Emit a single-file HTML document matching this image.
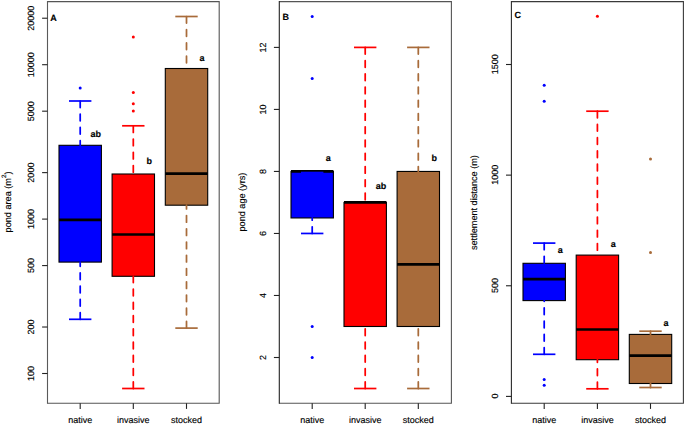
<!DOCTYPE html>
<html><head><meta charset="utf-8"><title>boxplots</title><style>
html,body{margin:0;padding:0;background:#fff;}
svg{display:block;}
text{font-family:"Liberation Sans",sans-serif;fill:#000;stroke:#000;stroke-width:0.15px;font-kerning:none;text-rendering:geometricPrecision;}
</style></head><body>
<svg width="685" height="425" viewBox="0 0 685 425">
<rect width="685" height="425" fill="#fff"/>
<path d="M47.5,1.6H219.2V403.3H47.5" fill="none" stroke="#555" stroke-width="1.1"/>
<line x1="47.5" y1="1.05" x2="47.5" y2="403.85" stroke="#5a5a5a" stroke-width="1.1"/>
<line x1="42.10" y1="373.50" x2="47.50" y2="373.50" stroke="#222" stroke-width="1.1"/>
<text transform="translate(34.30,373.50) rotate(-90)" font-size="9" text-anchor="middle">100</text>
<line x1="42.10" y1="327.02" x2="47.50" y2="327.02" stroke="#222" stroke-width="1.1"/>
<text transform="translate(34.30,327.02) rotate(-90)" font-size="9" text-anchor="middle">200</text>
<line x1="42.10" y1="265.58" x2="47.50" y2="265.58" stroke="#222" stroke-width="1.1"/>
<text transform="translate(34.30,265.58) rotate(-90)" font-size="9" text-anchor="middle">500</text>
<line x1="42.10" y1="219.10" x2="47.50" y2="219.10" stroke="#222" stroke-width="1.1"/>
<text transform="translate(34.30,219.10) rotate(-90)" font-size="9" text-anchor="middle">1000</text>
<line x1="42.10" y1="172.62" x2="47.50" y2="172.62" stroke="#222" stroke-width="1.1"/>
<text transform="translate(34.30,172.62) rotate(-90)" font-size="9" text-anchor="middle">2000</text>
<line x1="42.10" y1="111.18" x2="47.50" y2="111.18" stroke="#222" stroke-width="1.1"/>
<text transform="translate(34.30,111.18) rotate(-90)" font-size="9" text-anchor="middle">5000</text>
<line x1="42.10" y1="64.70" x2="47.50" y2="64.70" stroke="#222" stroke-width="1.1"/>
<text transform="translate(34.30,64.70) rotate(-90)" font-size="9" text-anchor="middle">10000</text>
<line x1="42.10" y1="18.22" x2="47.50" y2="18.22" stroke="#222" stroke-width="1.1"/>
<text transform="translate(34.30,18.22) rotate(-90)" font-size="9" text-anchor="middle">20000</text>
<line x1="80.20" y1="403.30" x2="80.20" y2="408.90" stroke="#222" stroke-width="1.1"/>
<text x="80.20" y="423.20" font-size="9" text-anchor="middle">native</text>
<line x1="133.30" y1="403.30" x2="133.30" y2="408.90" stroke="#222" stroke-width="1.1"/>
<text x="133.30" y="423.20" font-size="9" text-anchor="middle">invasive</text>
<line x1="186.50" y1="403.30" x2="186.50" y2="408.90" stroke="#222" stroke-width="1.1"/>
<text x="186.50" y="423.20" font-size="9" text-anchor="middle">stocked</text>
<rect x="59.00" y="145.30" width="42.40" height="116.80" fill="#0000FF" stroke="#000" stroke-width="1.1"/>
<line x1="59.00" y1="219.80" x2="101.40" y2="219.80" stroke="#000" stroke-width="2.7"/>
<line x1="80.20" y1="319.30" x2="80.20" y2="262.10" stroke="#0000FF" stroke-width="1.75" stroke-dasharray="6.62 6.62" stroke-linecap="round"/>
<line x1="80.20" y1="101.00" x2="80.20" y2="145.30" stroke="#0000FF" stroke-width="1.75" stroke-dasharray="6.62 6.62" stroke-linecap="round"/>
<line x1="69.00" y1="319.30" x2="91.40" y2="319.30" stroke="#0000FF" stroke-width="1.7"/>
<line x1="69.00" y1="101.00" x2="91.40" y2="101.00" stroke="#0000FF" stroke-width="1.7"/>
<circle cx="80.20" cy="87.90" r="1.5" fill="#0000FF"/>
<rect x="112.10" y="174.00" width="42.40" height="102.30" fill="#FF0000" stroke="#000" stroke-width="1.1"/>
<line x1="112.10" y1="234.50" x2="154.50" y2="234.50" stroke="#000" stroke-width="2.7"/>
<line x1="133.30" y1="388.50" x2="133.30" y2="276.30" stroke="#FF0000" stroke-width="1.75" stroke-dasharray="6.62 6.62" stroke-linecap="round"/>
<line x1="133.30" y1="125.80" x2="133.30" y2="174.00" stroke="#FF0000" stroke-width="1.75" stroke-dasharray="6.62 6.62" stroke-linecap="round"/>
<line x1="122.10" y1="388.50" x2="144.50" y2="388.50" stroke="#FF0000" stroke-width="1.7"/>
<line x1="122.10" y1="125.80" x2="144.50" y2="125.80" stroke="#FF0000" stroke-width="1.7"/>
<circle cx="133.30" cy="37.10" r="1.5" fill="#FF0000"/>
<circle cx="133.30" cy="92.60" r="1.5" fill="#FF0000"/>
<circle cx="133.30" cy="103.70" r="1.5" fill="#FF0000"/>
<circle cx="133.30" cy="110.90" r="1.5" fill="#FF0000"/>
<rect x="165.30" y="68.50" width="42.40" height="136.70" fill="#A86B3A" stroke="#000" stroke-width="1.1"/>
<line x1="165.30" y1="173.70" x2="207.70" y2="173.70" stroke="#000" stroke-width="2.7"/>
<line x1="186.50" y1="328.10" x2="186.50" y2="205.20" stroke="#A86B3A" stroke-width="1.75" stroke-dasharray="6.62 6.62" stroke-linecap="round"/>
<line x1="186.50" y1="16.50" x2="186.50" y2="68.50" stroke="#A86B3A" stroke-width="1.75" stroke-dasharray="6.62 6.62" stroke-linecap="round"/>
<line x1="175.30" y1="328.10" x2="197.70" y2="328.10" stroke="#A86B3A" stroke-width="1.7"/>
<line x1="175.30" y1="16.50" x2="197.70" y2="16.50" stroke="#A86B3A" stroke-width="1.7"/>
<text transform="translate(10.90,201.90) rotate(-90)" font-size="9.15"><tspan x="-30.49" y="0">pond area (m</tspan><tspan x="23.94" y="-4.9" font-size="6.3">2</tspan><tspan x="27.44" y="0">)</tspan></text>
<text x="50.30" y="21.40" font-size="9" font-weight="bold">A</text>
<text x="90.40" y="136.80" font-size="9" font-weight="bold">ab</text>
<text x="146.40" y="163.80" font-size="9" font-weight="bold">b</text>
<text x="199.40" y="61.00" font-size="9" font-weight="bold">a</text>
<path d="M279.3,1.6H451.4V403.3H279.3" fill="none" stroke="#555" stroke-width="1.1"/>
<line x1="279.3" y1="1.05" x2="279.3" y2="403.85" stroke="#222" stroke-width="1.1"/>
<line x1="273.90" y1="357.50" x2="279.30" y2="357.50" stroke="#222" stroke-width="1.1"/>
<text transform="translate(266.40,357.50) rotate(-90)" font-size="9" text-anchor="middle">2</text>
<line x1="273.90" y1="295.48" x2="279.30" y2="295.48" stroke="#222" stroke-width="1.1"/>
<text transform="translate(266.40,295.48) rotate(-90)" font-size="9" text-anchor="middle">4</text>
<line x1="273.90" y1="233.46" x2="279.30" y2="233.46" stroke="#222" stroke-width="1.1"/>
<text transform="translate(266.40,233.46) rotate(-90)" font-size="9" text-anchor="middle">6</text>
<line x1="273.90" y1="171.44" x2="279.30" y2="171.44" stroke="#222" stroke-width="1.1"/>
<text transform="translate(266.40,171.44) rotate(-90)" font-size="9" text-anchor="middle">8</text>
<line x1="273.90" y1="109.42" x2="279.30" y2="109.42" stroke="#222" stroke-width="1.1"/>
<text transform="translate(266.40,109.42) rotate(-90)" font-size="9" text-anchor="middle">10</text>
<line x1="273.90" y1="47.40" x2="279.30" y2="47.40" stroke="#222" stroke-width="1.1"/>
<text transform="translate(266.40,47.40) rotate(-90)" font-size="9" text-anchor="middle">12</text>
<line x1="312.20" y1="403.30" x2="312.20" y2="408.90" stroke="#222" stroke-width="1.1"/>
<text x="312.20" y="423.20" font-size="9" text-anchor="middle">native</text>
<line x1="365.20" y1="403.30" x2="365.20" y2="408.90" stroke="#222" stroke-width="1.1"/>
<text x="365.20" y="423.20" font-size="9" text-anchor="middle">invasive</text>
<line x1="418.30" y1="403.30" x2="418.30" y2="408.90" stroke="#222" stroke-width="1.1"/>
<text x="418.30" y="423.20" font-size="9" text-anchor="middle">stocked</text>
<rect x="291.00" y="171.44" width="42.40" height="46.51" fill="#0000FF" stroke="#000" stroke-width="1.1"/>
<line x1="291.00" y1="171.44" x2="333.40" y2="171.44" stroke="#000" stroke-width="2.7"/>
<line x1="312.20" y1="233.46" x2="312.20" y2="217.95" stroke="#0000FF" stroke-width="1.75" stroke-dasharray="6.62 6.62" stroke-linecap="round"/>
<line x1="301.00" y1="233.46" x2="323.40" y2="233.46" stroke="#0000FF" stroke-width="1.7"/>
<line x1="301.00" y1="172.54" x2="323.40" y2="172.54" stroke="#0000FF" stroke-width="1.7"/>
<circle cx="312.20" cy="16.39" r="1.5" fill="#0000FF"/>
<circle cx="312.20" cy="78.41" r="1.5" fill="#0000FF"/>
<circle cx="312.20" cy="326.49" r="1.5" fill="#0000FF"/>
<circle cx="312.20" cy="357.50" r="1.5" fill="#0000FF"/>
<rect x="344.00" y="202.45" width="42.40" height="124.04" fill="#FF0000" stroke="#000" stroke-width="1.1"/>
<line x1="344.00" y1="202.45" x2="386.40" y2="202.45" stroke="#000" stroke-width="2.7"/>
<line x1="365.20" y1="388.51" x2="365.20" y2="326.49" stroke="#FF0000" stroke-width="1.75" stroke-dasharray="6.62 6.62" stroke-linecap="round"/>
<line x1="365.20" y1="47.40" x2="365.20" y2="202.45" stroke="#FF0000" stroke-width="1.75" stroke-dasharray="6.62 6.62" stroke-linecap="round"/>
<line x1="354.00" y1="388.51" x2="376.40" y2="388.51" stroke="#FF0000" stroke-width="1.7"/>
<line x1="354.00" y1="47.40" x2="376.40" y2="47.40" stroke="#FF0000" stroke-width="1.7"/>
<rect x="397.10" y="171.44" width="42.40" height="155.05" fill="#A86B3A" stroke="#000" stroke-width="1.1"/>
<line x1="397.10" y1="264.47" x2="439.50" y2="264.47" stroke="#000" stroke-width="2.7"/>
<line x1="418.30" y1="388.51" x2="418.30" y2="326.49" stroke="#A86B3A" stroke-width="1.75" stroke-dasharray="6.62 6.62" stroke-linecap="round"/>
<line x1="418.30" y1="47.40" x2="418.30" y2="171.44" stroke="#A86B3A" stroke-width="1.75" stroke-dasharray="6.62 6.62" stroke-linecap="round"/>
<line x1="407.10" y1="388.51" x2="429.50" y2="388.51" stroke="#A86B3A" stroke-width="1.7"/>
<line x1="407.10" y1="47.40" x2="429.50" y2="47.40" stroke="#A86B3A" stroke-width="1.7"/>
<text transform="translate(244.70,202.10) rotate(-90)" font-size="9.15" text-anchor="middle">pond age (yrs)</text>
<text x="282.40" y="19.60" font-size="9" font-weight="bold">B</text>
<text x="325.80" y="160.60" font-size="9" font-weight="bold">a</text>
<text x="375.80" y="189.10" font-size="9" font-weight="bold">ab</text>
<text x="431.50" y="161.30" font-size="9" font-weight="bold">b</text>
<path d="M511.4,1.6H683.4V403.3H511.4" fill="none" stroke="#3a3a3a" stroke-width="1.1"/>
<line x1="511.4" y1="1.05" x2="511.4" y2="403.85" stroke="#2a2a2a" stroke-width="1.1"/>
<line x1="506.00" y1="396.40" x2="511.40" y2="396.40" stroke="#222" stroke-width="1.1"/>
<text transform="translate(498.20,396.10) rotate(-90)" font-size="9" text-anchor="middle">0</text>
<line x1="506.00" y1="285.77" x2="511.40" y2="285.77" stroke="#222" stroke-width="1.1"/>
<text transform="translate(498.20,285.47) rotate(-90)" font-size="9" text-anchor="middle">500</text>
<line x1="506.00" y1="175.13" x2="511.40" y2="175.13" stroke="#222" stroke-width="1.1"/>
<text transform="translate(498.20,174.83) rotate(-90)" font-size="9" text-anchor="middle">1000</text>
<line x1="506.00" y1="64.50" x2="511.40" y2="64.50" stroke="#222" stroke-width="1.1"/>
<text transform="translate(498.20,64.20) rotate(-90)" font-size="9" text-anchor="middle">1500</text>
<line x1="544.20" y1="403.30" x2="544.20" y2="408.90" stroke="#222" stroke-width="1.1"/>
<text x="544.20" y="423.20" font-size="9" text-anchor="middle">native</text>
<line x1="597.40" y1="403.30" x2="597.40" y2="408.90" stroke="#222" stroke-width="1.1"/>
<text x="597.40" y="423.20" font-size="9" text-anchor="middle">invasive</text>
<line x1="650.50" y1="403.30" x2="650.50" y2="408.90" stroke="#222" stroke-width="1.1"/>
<text x="650.50" y="423.20" font-size="9" text-anchor="middle">stocked</text>
<rect x="523.00" y="263.30" width="42.40" height="37.30" fill="#0000FF" stroke="#000" stroke-width="1.1"/>
<line x1="523.00" y1="279.20" x2="565.40" y2="279.20" stroke="#000" stroke-width="2.7"/>
<line x1="544.20" y1="354.30" x2="544.20" y2="300.60" stroke="#0000FF" stroke-width="1.75" stroke-dasharray="6.62 6.62" stroke-linecap="round"/>
<line x1="544.20" y1="243.10" x2="544.20" y2="263.30" stroke="#0000FF" stroke-width="1.75" stroke-dasharray="6.62 6.62" stroke-linecap="round"/>
<line x1="533.00" y1="354.30" x2="555.40" y2="354.30" stroke="#0000FF" stroke-width="1.7"/>
<line x1="533.00" y1="243.10" x2="555.40" y2="243.10" stroke="#0000FF" stroke-width="1.7"/>
<circle cx="544.20" cy="85.20" r="1.5" fill="#0000FF"/>
<circle cx="544.20" cy="101.20" r="1.5" fill="#0000FF"/>
<circle cx="544.20" cy="379.50" r="1.5" fill="#0000FF"/>
<circle cx="544.20" cy="385.20" r="1.5" fill="#0000FF"/>
<rect x="576.20" y="255.10" width="42.40" height="104.60" fill="#FF0000" stroke="#000" stroke-width="1.1"/>
<line x1="576.20" y1="329.50" x2="618.60" y2="329.50" stroke="#000" stroke-width="2.7"/>
<line x1="597.40" y1="388.80" x2="597.40" y2="359.70" stroke="#FF0000" stroke-width="1.75" stroke-dasharray="6.62 6.62" stroke-linecap="round"/>
<line x1="597.40" y1="111.20" x2="597.40" y2="255.10" stroke="#FF0000" stroke-width="1.75" stroke-dasharray="6.62 6.62" stroke-linecap="round"/>
<line x1="586.20" y1="388.80" x2="608.60" y2="388.80" stroke="#FF0000" stroke-width="1.7"/>
<line x1="586.20" y1="111.20" x2="608.60" y2="111.20" stroke="#FF0000" stroke-width="1.7"/>
<circle cx="597.40" cy="16.25" r="1.5" fill="#FF0000"/>
<rect x="629.30" y="334.40" width="42.40" height="49.10" fill="#A86B3A" stroke="#000" stroke-width="1.1"/>
<line x1="629.30" y1="355.60" x2="671.70" y2="355.60" stroke="#000" stroke-width="2.7"/>
<line x1="650.50" y1="387.50" x2="650.50" y2="383.50" stroke="#A86B3A" stroke-width="1.75" stroke-dasharray="6.62 6.62" stroke-linecap="round"/>
<line x1="650.50" y1="331.20" x2="650.50" y2="334.40" stroke="#A86B3A" stroke-width="1.75" stroke-dasharray="6.62 6.62" stroke-linecap="round"/>
<line x1="639.30" y1="387.50" x2="661.70" y2="387.50" stroke="#A86B3A" stroke-width="1.7"/>
<line x1="639.30" y1="331.20" x2="661.70" y2="331.20" stroke="#A86B3A" stroke-width="1.7"/>
<circle cx="650.50" cy="159.00" r="1.5" fill="#A86B3A"/>
<circle cx="650.50" cy="252.50" r="1.5" fill="#A86B3A"/>
<text transform="translate(477.10,202.60) rotate(-90)" font-size="9.15" text-anchor="middle">settlement distance (m)</text>
<text x="514.50" y="17.70" font-size="9" font-weight="bold">C</text>
<text x="557.70" y="253.10" font-size="9" font-weight="bold">a</text>
<text x="610.80" y="246.90" font-size="9" font-weight="bold">a</text>
<text x="663.50" y="326.30" font-size="9" font-weight="bold">a</text>
</svg>
</body></html>
